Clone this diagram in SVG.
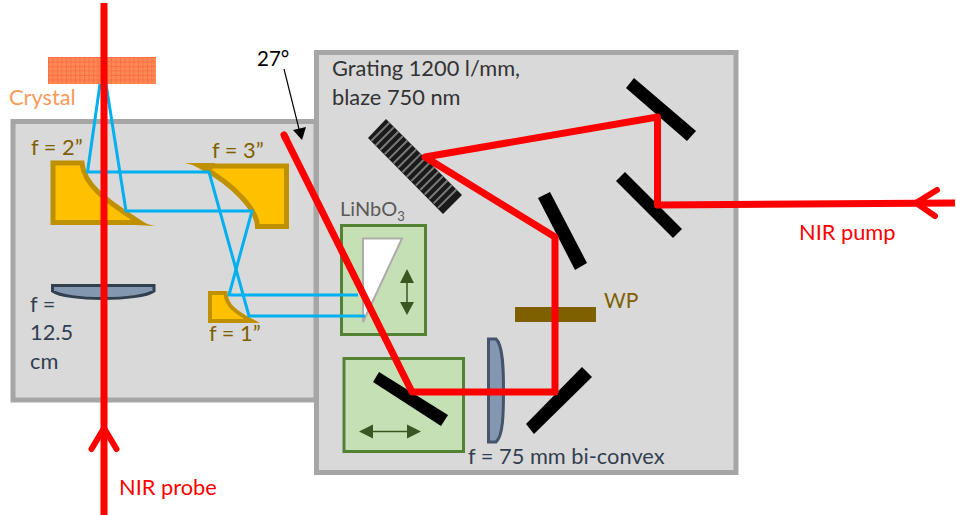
<svg xmlns="http://www.w3.org/2000/svg" width="956" height="515" viewBox="0 0 956 515">
<style>
text{font-family:Lato,"Liberation Sans",sans-serif;font-size:21.8px}
.box{fill:#d9d9d9;stroke:#a6a6a6;stroke-width:5}
.par{fill:#ffc000;stroke:#bf9000;stroke-width:5;stroke-miterlimit:30}
.green{fill:#c5e0b4;stroke:#548235;stroke-width:3}
.mirror{fill:#000}
.lens{fill:#8497b0;stroke:#323f4f;stroke-width:3}
.gold{fill:#7f6000}
.dark{fill:#333f50}
.red{fill:#ff0000}
.blue{fill:none;stroke:#00b0f0;stroke-width:3;stroke-linejoin:round}
.beam{fill:none;stroke:#ff0000;stroke-width:7;stroke-linejoin:round;stroke-linecap:round}
.chev{fill:none;stroke:#ff0000;stroke-width:6;stroke-linejoin:miter;stroke-linecap:round}
.dbl{stroke:#385723;stroke-width:1.5;fill:none}
.head{fill:#385723}
</style>
<defs>
<pattern id="grid" width="4.5" height="4.5" patternUnits="userSpaceOnUse" x="48" y="57">
<rect width="4.5" height="4.5" fill="#fb8a52"/>
<path d="M0 .5H4.5M.5 0V4.5" stroke="#ff6f4a" stroke-width="1" fill="none"/>
</pattern>
</defs>
<g id="housing-left"><rect class="box" x="13" y="121.500" width="303" height="278.500"/></g>
<g id="housing-right"><rect class="box" x="316.500" y="52.500" width="419.500" height="420"/></g>
<g id="crystal"><rect x="48" y="57" width="108" height="27" fill="url(#grid)"/><text x="9" y="105" fill="#f79a5c">Crystal</text></g>
<g id="oap-2"><path class="par" d="M53 163H82C84 185 105 200 140 222.500H53Z" style="stroke-linejoin:miter"/><polygon points="130,219.500 155,226 125,224.500" fill="#bf9000"/><text class="gold" x="31" y="155">f = 2”</text></g>
<g id="oap-3"><path class="par" d="M200 166H286.500V226.500H257.500C257 210 235 185 200 166Z"/><polygon points="185,163 215,163 212,170" fill="#bf9000"/><text class="gold" x="212" y="158">f = 3”</text></g>
<g id="oap-1"><path class="par" style="stroke-width:4" d="M210 293H225.500C226 305 235 312 252 321H210Z"/><text class="gold" x="209" y="341">f = 1”</text></g>
<g id="lens-125"><path class="lens" d="M52.500 285.500H154V291C140 301 66 301 52.500 291Z"/><text class="dark" x="30" y="312">f =</text><text class="dark" x="30" y="340">12.5</text><text class="dark" x="30" y="369">cm</text></g>
<g id="grating">
<polygon points="386,119 368,138 443,214 462,195" fill="#1a1a1a"/>
<g transform="translate(415 166.500) rotate(45)" fill="#7a7a7a"><rect x="-50" y="-13" width="2" height="26"/><rect x="-43.700" y="-13" width="2" height="26"/><rect x="-37.400" y="-13" width="2" height="26"/><rect x="-31.100" y="-13" width="2" height="26"/><rect x="-24.800" y="-13" width="2" height="26"/><rect x="-18.500" y="-13" width="2" height="26"/><rect x="-12.200" y="-13" width="2" height="26"/><rect x="-5.900" y="-13" width="2" height="26"/><rect x=".4" y="-13" width="2" height="26"/><rect x="6.700" y="-13" width="2" height="26"/><rect x="13" y="-13" width="2" height="26"/><rect x="19.300" y="-13" width="2" height="26"/><rect x="25.600" y="-13" width="2" height="26"/><rect x="31.900" y="-13" width="2" height="26"/><rect x="38.200" y="-13" width="2" height="26"/><rect x="44.500" y="-13" width="2" height="26"/></g>
<text x="332" y="76" fill="#333">Grating 1200 l/mm,</text><text x="332" y="105" fill="#333">blaze 750 nm</text>
</g>
<g id="linbo3">
<rect class="green" x="341.500" y="225.500" width="84" height="109"/>
<polygon points="363,238.500 402,238.500 363,322" fill="#fff" stroke="#afabab" stroke-width="2"/>
<path class="dbl" d="M407 280V304"/><polygon class="head" points="407,269 414,283 400,283"/><polygon class="head" points="407,315 414,302 400,302"/>
<text x="340" y="216" fill="#595959" style="font-size:20px">LiNbO<tspan dy="5" font-size="13">3</tspan></text>
</g>
<g id="stage">
<rect class="green" x="344" y="358.500" width="119.500" height="93"/>
<path class="dbl" d="M370 431.500H410"/><polygon class="head" points="359,431.500 373,424.500 373,438.500"/><polygon class="head" points="421,431.500 407,424.500 407,438.500"/>
<polygon class="mirror" points="379,372 373,382 441,426 448,415"/>
</g>
<g id="mirror-1"><polygon class="mirror" points="634,78 626,88 687,141 696,131"/></g>
<g id="mirror-2"><polygon class="mirror" points="625,172 616,181 673,238 682,229"/></g>
<g id="mirror-3"><polygon class="mirror" points="550,192 538,198 575,270 587,263"/></g>
<g id="mirror-4"><polygon class="mirror" points="582,367 592,377 534,434 526,424"/></g>
<g id="waveplate"><rect class="gold" x="515" y="307" width="81" height="15"/><text class="gold" x="604" y="308" style="font-size:21px">WP</text></g>
<g id="lens-75"><path class="lens" style="stroke:#44546a" d="M488.500 339H496C503 345 503.500 370 503.500 390C503.500 415 503 436 496 442H488.500Z"/><text class="dark" x="468" y="464">f = 75 mm bi-convex</text></g>
<g id="connectors">
<path class="blue" d="M100 84L87.500 172H209L249 316H365"/>
<path class="blue" d="M106 84L126 211H252L229 295H358"/>
<path class="beam" style="stroke-linecap:butt" d="M104 3V515"/>
<path class="chev" d="M91.500 449L104 428L116.500 449"/>
<path class="beam" d="M284 135L412 392H555V237L425 157L657.500 117V205L955 203" style="stroke-linecap:butt"/>
<path d="M284 135L286 139" class="beam"/>
<path class="chev" d="M937 190L916 203L935 216"/>
<path d="M284 69L299 129" stroke="#000" stroke-width="1.200" fill="none"/>
<polygon points="302,140 293,130 306,127" fill="#000"/>
</g>
<g id="labels">
<text x="257" y="66" fill="#000" style="font-size:20.500px">27°</text>
<text class="red" x="119" y="495">NIR probe</text>
<text class="red" x="799" y="240">NIR pump</text>
</g>
</svg>
